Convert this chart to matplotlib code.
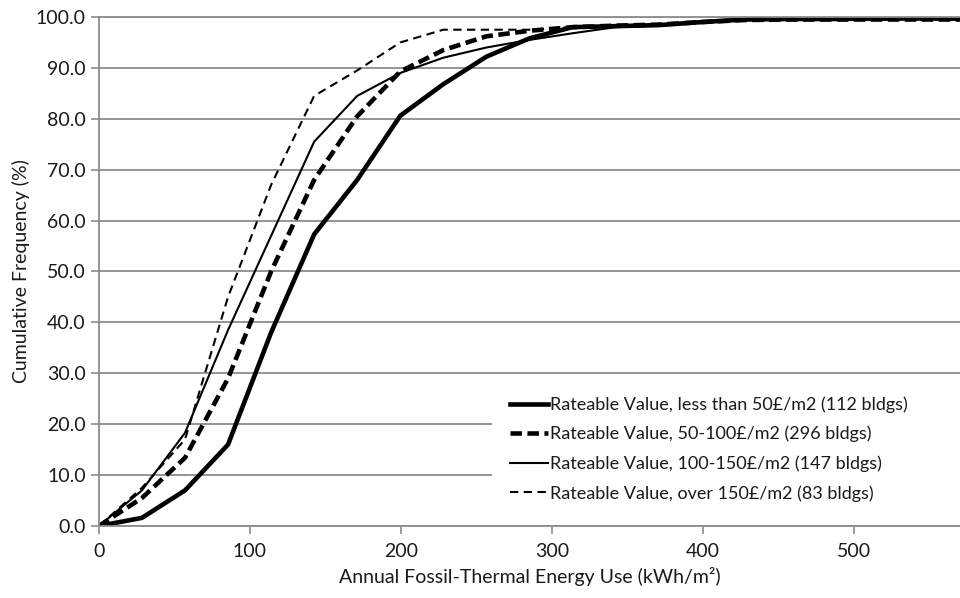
"""Cumulative frequency of annual fossil-thermal energy use by rateable value band."""

import matplotlib
matplotlib.use("Agg")
import matplotlib.pyplot as plt
from matplotlib.patches import Rectangle

GRID = "#8c8c8c"
TEXT = "#1a1a1a"

energy_use = [0, 28.5, 57, 85.5, 114, 142.5, 171, 199.5, 228, 256.5, 285,
              313.5, 342, 370.5, 399, 427.5, 456, 484.5, 513, 541.5, 570]

rv_under_50 = [0, 1.6, 7.0, 16.0, 38.0, 57.3, 68.0, 80.6, 86.8, 92.2, 95.8,
               98.0, 98.2, 98.4, 99.0, 99.5, 99.6, 99.6, 99.7, 99.7, 99.7]
rv_50_100 = [0, 5.5, 13.4, 29.0, 50.0, 68.0, 80.5, 89.3, 93.5, 96.2, 97.3,
             98.0, 98.3, 98.5, 99.0, 99.4, 99.5, 99.5, 99.5, 99.5, 99.5]
rv_100_150 = [0, 7.0, 18.3, 38.5, 57.0, 75.5, 84.5, 89.0, 92.0, 94.0, 95.5,
              96.8, 98.0, 98.3, 99.0, 99.4, 99.5, 99.5, 99.6, 99.6, 99.6]
rv_over_150 = [0, 7.5, 17.0, 45.0, 67.0, 84.5, 89.5, 95.0, 97.5, 97.5, 97.5,
               98.0, 98.3, 98.5, 99.0, 99.4, 99.5, 99.5, 99.5, 99.5, 99.5]

labels = [
    "Rateable Value, less than 50£/m2 (112 bldgs)",
    "Rateable Value, 50-100£/m2 (296 bldgs)",
    "Rateable Value, 100-150£/m2 (147 bldgs)",
    "Rateable Value, over 150£/m2 (83 bldgs)",
]

plt.rcParams["font.family"] = ["Lato", "DejaVu Sans"]
plt.rcParams["font.size"] = 13

fig = plt.figure(figsize=(9.6, 5.98), dpi=100)
ax = fig.add_axes([0.103, 0.1204, 0.897, 0.8512])

ax.plot(energy_use, rv_under_50, color="black", lw=3.3, label=labels[0])
ax.plot(energy_use, rv_50_100, color="black", lw=3.3, ls=(0, (2.5, 1.2)),
        label=labels[1])
ax.plot(energy_use, rv_100_150, color="black", lw=1.5, label=labels[2])
ax.plot(energy_use, rv_over_150, color="black", lw=1.5, ls=(0, (4, 2.6)),
        label=labels[3])

ax.set_xlim(0, 570)
ax.set_ylim(0, 100)
ax.set_xticks(range(0, 600, 100))
ax.set_yticks(range(0, 110, 10))
ax.set_yticklabels([f"{v:.1f}" for v in range(0, 110, 10)])

ax.yaxis.grid(True, color=GRID, lw=1.3)
ax.set_axisbelow(True)
ax.spines["right"].set_visible(False)
for side in ("left", "bottom", "top"):
    ax.spines[side].set_color(GRID)
    ax.spines[side].set_linewidth(1.3)

ax.tick_params(axis="both", colors=GRID, length=6, width=1.2,
               labelcolor=TEXT, labelsize=14)
ax.tick_params(axis="x", pad=6)

ax.set_xlabel("Annual Fossil-Thermal Energy Use (kWh/m²)", color=TEXT,
              fontsize=14, labelpad=5)
ax.set_ylabel("Cumulative Frequency (%)", color=TEXT, fontsize=14, labelpad=4)

# white panel behind the legend hides the gridlines there
ax.add_patch(Rectangle((0.456, 0.022), 0.544, 0.27, transform=ax.transAxes,
                       facecolor="white", edgecolor="none", zorder=1))

leg = ax.legend(loc="lower left", bbox_to_anchor=(0.477, 0.048), frameon=False,
                fontsize=13, handlelength=2.1, handletextpad=0.15,
                labelspacing=0.72, borderpad=0, borderaxespad=0)
for t in leg.get_texts():
    t.set_color(TEXT)

fig.savefig("out.png", dpi=100, facecolor="white")
